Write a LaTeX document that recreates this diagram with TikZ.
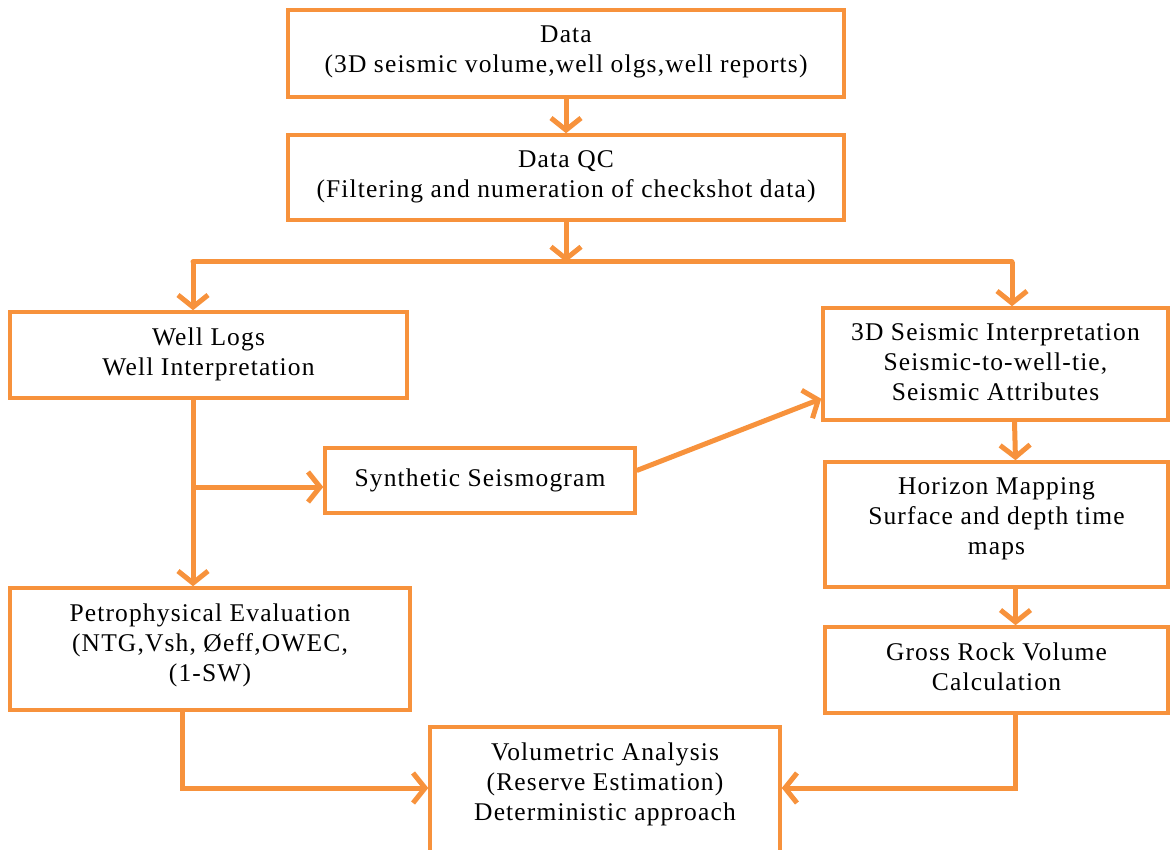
\documentclass[tikz,border=0pt]{standalone}
\usepackage{fontspec}
\setmainfont{Liberation Serif}[LetterSpace=4.5]
\usepackage{tikz}
\usetikzlibrary{arrows.meta,positioning}
\definecolor{flow}{HTML}{F7923C}

\begin{document}
\begin{tikzpicture}[x=1pt,y=-1pt,
  box/.style n args={3}{draw=flow,line width=3.5pt,rectangle,minimum width=#1pt,minimum height=#2pt,
    label={[txt]north:{#3}}},
  txt/.style={anchor=north,yshift=-17pt,align=center,inner sep=0pt,font=\fontsize{25.5}{30}\selectfont},
  lnk/.style={draw=flow,line width=5pt},
  arr/.style={lnk,-{Straight Barb[length=12pt,width=30pt]}}]
\useasboundingbox (0,0) rectangle (1170,850);
\node[box={556}{87}{Data\\(3D seismic volume,well olgs,well reports)}] (data) at (566,53.5) {};
\node[box={556}{85}{Data QC\\(Filtering and numeration of checkshot data)}] (qc) at (566,177.5) {};
\node[box={397}{86}{Well Logs\\Well Interpretation}] (well) at (208.5,355) {};
\node[box={345}{112}{3D Seismic Interpretation\\Seismic-to-well-tie,\\Seismic Attributes}] (seis) at (995.5,364) {};
\node[box={310}{65}{},font=\fontsize{25.5}{30}\selectfont] (synth) at (480,480.5) {Synthetic Seismogram};
\node[box={343}{125}{Horizon Mapping\\Surface and depth time\\maps}] (horiz) at (996.5,524.5) {};
\node[box={400}{122}{Petrophysical Evaluation\\(NTG,Vsh, Øeff,OWEC,\\(1-SW)}] (petro) at (210,649) {};
\node[box={343}{86}{Gross Rock Volume\\Calculation}] (gross) at (996.5,670) {};
\node[box={350}{132}{Volumetric Analysis\\(Reserve Estimation)\\Deterministic approach}] (vol) at (605,793) {};
% split below Data QC
\coordinate (split) at (566,262);
\coordinate (splitL) at (193,262);
\coordinate (splitR) at (1012,262);
\coordinate (tap) at (193,487);
\draw[arr] (data) -- (qc);
\draw[arr] (qc) -- (split);
\draw[lnk,line cap=round] (splitL) -- (splitR);
\draw[arr] (splitL) -- (splitL |- well.north);
\draw[arr] (splitR) -- (splitR |- seis.north);
\draw[arr] (splitL |- well.south) -- (splitL |- petro.north);
\draw[arr] (tap) -- (tap -| synth.west);
\draw[arr] ([yshift=10pt]synth.east) -- ([yshift=23pt]seis.south west);
\draw[arr] ([xshift=19pt]seis.south) -- ([xshift=19pt]horiz.north);
\draw[arr] ([xshift=19pt]horiz.south) -- ([xshift=19pt]gross.north);
% into Volumetric Analysis
\draw[arr] ([xshift=-28pt]petro.south) |- ([yshift=5pt]vol.west);
\draw[arr] ([xshift=19pt]gross.south) |- ([yshift=5pt]vol.east);
\end{tikzpicture}
\end{document}
